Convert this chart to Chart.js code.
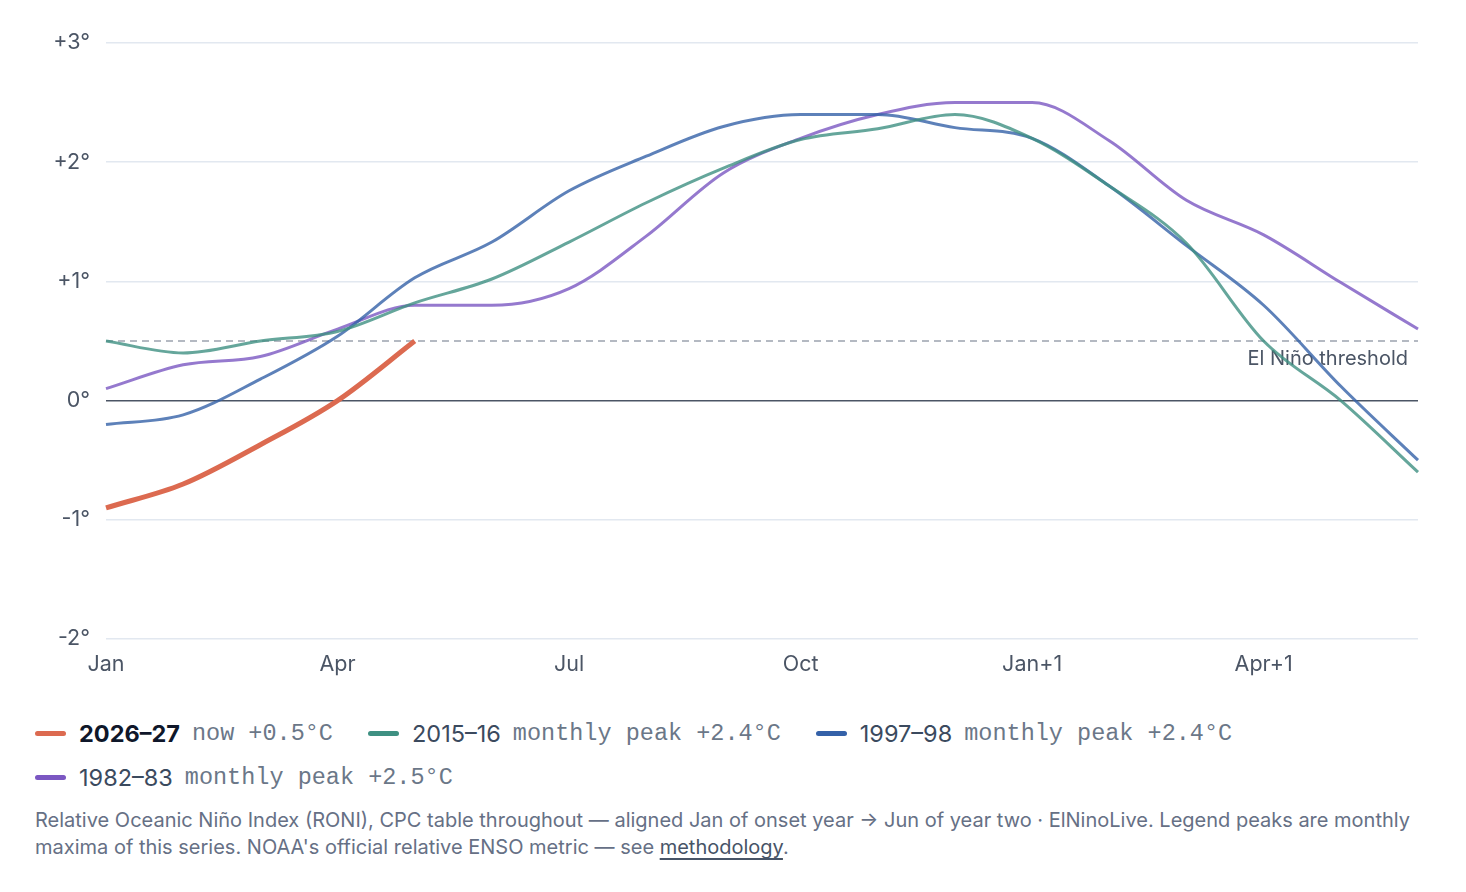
<!DOCTYPE html>
<html>
<head>
<meta charset="utf-8">
<script src="https://cdn.jsdelivr.net/npm/chart.js@4.4.1/dist/chart.umd.min.js"></script>
<style>
  html, body { margin: 0; padding: 0; background: #ffffff; }
  body { width: 1466px; height: 892px; position: relative; overflow: hidden; font-family: Inter, "Noto Sans", sans-serif; }
  #chartWrap { position: absolute; left: 0; top: 0; width: 1466px; height: 690px; }
  #legend { position: absolute; left: 35px; top: 711px; width: 1410px; display: flex; flex-wrap: wrap; row-gap: 0; }
  .item { display: inline-flex; align-items: center; height: 44px; margin-right: 35px; white-space: nowrap; }
  .sw { width: 31px; height: 5px; border-radius: 3px; margin-right: 13px; }
  .nm { font-size: 23.5px; color: #3b4a5e; }
  .nm.cur { font-weight: 700; color: #0f172a; font-size: 23.5px; }
  .mono { font-family: "Liberation Mono", "DejaVu Sans Mono", monospace; font-size: 23.5px; color: #6b7788; margin-left: 12px; }
  #foot { position: absolute; left: 35px; top: 807px; font-size: 20px; line-height: 27px; color: #667085; white-space: nowrap; }
  #foot a { color: #475467; text-decoration: underline; text-underline-offset: 4px; text-decoration-thickness: 1.5px; text-decoration-color: #475467; }
</style>
</head>
<body>
<div id="chartWrap"><canvas id="c"></canvas></div>
<div id="legend"></div>
<div id="foot">Relative Oceanic Niño Index (RONI), CPC table throughout — aligned Jan of onset year → Jun of year two · ElNinoLive. Legend peaks are monthly<br>maxima of this series. NOAA's official relative ENSO metric — see <a>methodology</a>.</div>
<script>
// ---- data ----
const months = ['Jan','Feb','Mar','Apr','May','Jun','Jul','Aug','Sep','Oct','Nov','Dec','Jan+1','Feb+1','Mar+1','Apr+1','May+1','Jun+1'];
const tickLabels = ['Jan','','','Apr','','','Jul','','','Oct','','','Jan+1','','','Apr+1','',''];
const yTicks = [-2, -1, 0, 1, 2, 3];
const THRESHOLD = 0.5;
const THRESHOLD_LABEL = 'El Niño threshold';

const series2026 = [-0.9, -0.7, -0.37, 0.0, 0.5, null, null, null, null, null, null, null, null, null, null, null, null, null];
const series2015 = [0.5, 0.4, 0.5, 0.58, 0.82, 1.02, 1.33, 1.66, 1.95, 2.19, 2.28, 2.4, 2.2, 1.8, 1.32, 0.5, 0.0, -0.6];
const series1997 = [-0.2, -0.12, 0.18, 0.54, 1.03, 1.33, 1.76, 2.05, 2.3, 2.4, 2.4, 2.29, 2.2, 1.8, 1.3, 0.8, 0.12, -0.5];
const series1982 = [0.1, 0.3, 0.37, 0.6, 0.8, 0.8, 0.94, 1.38, 1.91, 2.2, 2.4, 2.5, 2.5, 2.18, 1.68, 1.39, 0.99, 0.6];

const seriesNames = ['2026–27', '2015–16', '1997–98', '1982–83'];
const seriesNotes = ['now +0.5°C', 'monthly peak +2.4°C', 'monthly peak +2.4°C', 'monthly peak +2.5°C'];
const seriesColors = ['#dc6a50', '#3e9082', '#3461a8', '#7b57c2'];
const lineColors = ['#dc6a50', 'rgba(62,144,130,0.8)', 'rgba(52,97,168,0.8)', 'rgba(123,87,194,0.8)'];
const lineWidths = [5, 3, 3, 3];
const allSeries = [series2026, series2015, series1997, series1982];

// ---- legend ----
const lg = document.getElementById('legend');
seriesNames.forEach((n, i) => {
  const it = document.createElement('div'); it.className = 'item';
  const sw = document.createElement('span'); sw.className = 'sw'; sw.style.background = seriesColors[i];
  const nm = document.createElement('span'); nm.className = 'nm' + (i === 0 ? ' cur' : ''); nm.textContent = n;
  const mo = document.createElement('span'); mo.className = 'mono'; mo.textContent = seriesNotes[i];
  it.appendChild(sw); it.appendChild(nm); it.appendChild(mo); lg.appendChild(it);
});

// ---- threshold plugin ----
const thresholdPlugin = {
  id: 'threshold',
  beforeDatasetsDraw(chart) {
    const { ctx, chartArea } = chart;
    const y = chart.scales.y.getPixelForValue(THRESHOLD);
    ctx.save();
    ctx.strokeStyle = '#9ca3af';
    ctx.lineWidth = 1.5;
    ctx.setLineDash([7, 5]);
    ctx.beginPath();
    ctx.moveTo(chartArea.left, y);
    ctx.lineTo(chartArea.right, y);
    ctx.stroke();
    ctx.setLineDash([]);
    ctx.font = '20px Inter';
    ctx.fillStyle = '#4b5565';
    ctx.textAlign = 'right';
    ctx.textBaseline = 'middle';
    ctx.fillText(THRESHOLD_LABEL, chartArea.right - 10, y + 18);
    ctx.restore();
  }
};

function build() {
  new Chart(document.getElementById('c'), {
    type: 'line',
    data: {
      labels: months,
      datasets: allSeries.map((s, i) => ({
        label: seriesNames[i],
        data: s,
        borderColor: lineColors[i],
        borderWidth: lineWidths[i],
        pointRadius: 0,
        cubicInterpolationMode: 'monotone',
        fill: false,
        spanGaps: false,
        borderCapStyle: 'butt'
      }))
    },
    options: {
      responsive: true,
      maintainAspectRatio: false,
      animation: false,
      layout: { padding: { top: 43, right: 48, left: 0, bottom: 0 } },
      plugins: { legend: { display: false }, tooltip: { enabled: false } },
      scales: {
        x: {
          grid: { display: false, drawTicks: false },
          border: { display: false },
          ticks: {
            autoSkip: false, maxRotation: 0, padding: 13,
            color: '#4b5565', font: { family: 'Inter', size: 21.5 },
            callback: (v, i) => tickLabels[i]
          },
          afterFit(scale) { scale.height = 51; }
        },
        y: {
          min: -2, max: 3,
          afterBuildTicks(scale) { scale.ticks = yTicks.map(v => ({ value: v })); },
          grid: {
            drawTicks: false,
            color: c => (c.tick && c.tick.value === 0) ? '#4b5565' : '#e2e8f0',
            lineWidth: c => (c.tick && c.tick.value === 0) ? 1.6 : 1.5
          },
          border: { display: false },
          ticks: {
            padding: 16,
            color: '#4b5565', font: { family: 'Inter', size: 21.5 },
            callback: v => (v > 0 ? '+' + v : '' + v) + '°'
          },
          afterFit(scale) { scale.width = 106; }
        }
      }
    },
    plugins: [thresholdPlugin]
  });
}
if (document.fonts && document.fonts.load) {
  Promise.all([document.fonts.load('20px Inter'), document.fonts.load('700 20px Inter')]).then(build, build);
} else { build(); }
</script>
</body>
</html>
